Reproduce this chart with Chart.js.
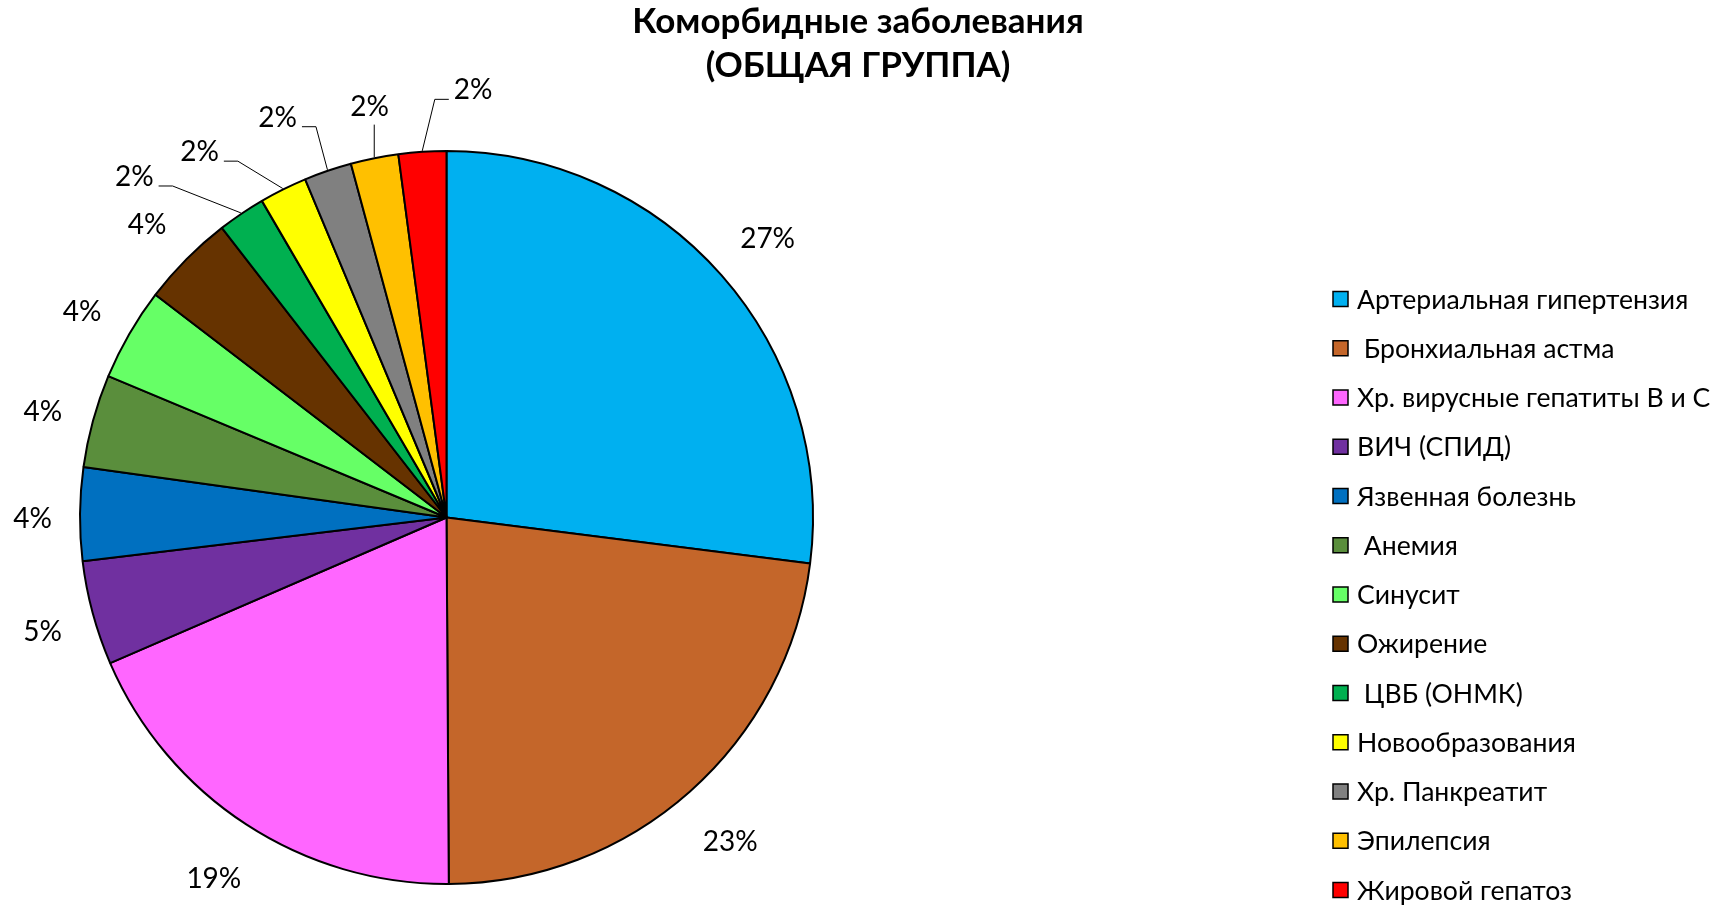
<!DOCTYPE html>
<html lang="ru">
<head>
<meta charset="utf-8">
<title>Коморбидные заболевания</title>
<script src="https://cdn.jsdelivr.net/npm/chart.js@4/dist/chart.umd.min.js"></script>
<style>
  html, body { margin: 0; padding: 0; background: #fff; overflow: hidden; }
  #wrap { width: 1716px; height: 906px; position: relative; }
</style>
</head>
<body>
<div id="wrap"><canvas id="pieChart"></canvas></div>
<script>
const titleLines = ["Коморбидные заболевания", "(ОБЩАЯ ГРУППА)"];

const diseases = [
    "Артериальная гипертензия",
    " Бронхиальная астма",
    "Хр. вирусные гепатиты В и С",
    "ВИЧ (СПИД)",
    "Язвенная болезнь",
    " Анемия",
    "Синусит",
    "Ожирение",
    " ЦВБ (ОНМК)",
    "Новообразования",
    "Хр. Панкреатит",
    "Эпилепсия",
    "Жировой гепатоз"
];

// доля в процентах
const shares = [27.0, 22.9, 18.6, 4.6, 4.1, 4.1, 4.1, 4.1, 2.1, 2.1, 2.1, 2.1, 2.1];

const sliceColors = [
    "#00B0F0", "#C4662A", "#FF66FF", "#7030A0", "#0070C0", "#5A8E3C", "#66FF66",
    "#663300", "#00B050", "#FFFF00", "#808080", "#FFC000", "#FF0000"
];

// подписи маленьких секторов вынесены с выносками: [сдвиг угла в градусах, радиус]
const leaderLabels = {
    8: [-8.5, 462],
    9: [-7.6, 441],
    10: [-4, 434],
    11: [0.75, 418],
    12: [7.35, 428]
};

const textFont = "Lato, 'Open Sans', sans-serif";

// подписи процентов у секторов
const percentLabels = {
    id: "percentLabels",
    afterDatasetsDraw(chart) {
        const ctx = chart.ctx;
        const meta = chart.getDatasetMeta(0);
        const total = shares.reduce((a, b) => a + b, 0);
        ctx.save();
        ctx.font = "28px " + textFont;
        ctx.fillStyle = "#000";
        ctx.strokeStyle = "#000";
        ctx.lineWidth = 1;
        ctx.textAlign = "center";
        ctx.textBaseline = "middle";
        meta.data.forEach((arc, i) => {
            const p = arc.getProps(["x", "y", "startAngle", "endAngle", "outerRadius"], true);
            const mid = (p.startAngle + p.endAngle) / 2;
            const text = Math.round(shares[i] / total * 100) + "%";
            const w = ctx.measureText(text).width;
            const r = p.outerRadius + 1;
            const lead = leaderLabels[i];
            if (lead) {
                const a = mid + lead[0] * Math.PI / 180;
                const lx = p.x + Math.cos(a) * lead[1];
                const ly = p.y + Math.sin(a) * lead[1];
                const ax = p.x + Math.cos(mid) * r;
                const ay = p.y + Math.sin(mid) * r;
                ctx.beginPath();
                ctx.moveTo(ax, ay);
                if (Math.abs(lx - ax) < w / 2) {
                    ctx.lineTo(ax, ly + 18);
                } else {
                    const side = lx < ax ? 1 : -1;
                    const cx = lx + side * (w / 2 + 5);
                    ctx.lineTo(cx + side * 14, ly + 9);
                    ctx.lineTo(cx, ly + 9);
                }
                ctx.stroke();
                ctx.fillText(text, lx, ly);
            } else {
                const d = r + 26 + Math.abs(Math.cos(mid)) * (w / 2 + 1) + Math.abs(Math.sin(mid)) * 20;
                ctx.fillText(text, p.x + Math.cos(mid) * d, p.y + Math.sin(mid) * d + 5);
            }
        });
        ctx.restore();
    }
};

// заголовок и легенда справа
const titleAndLegend = {
    id: "titleAndLegend",
    afterDraw(chart) {
        const ctx = chart.ctx;
        ctx.save();
        ctx.fillStyle = "#000";
        ctx.textAlign = "center";
        ctx.textBaseline = "middle";
        ctx.font = "bold 35px " + textFont;
        titleLines.forEach((line, i) => ctx.fillText(line, 858, 22 + i * 44));

        ctx.textAlign = "left";
        ctx.font = "26.6px " + textFont;
        ctx.lineWidth = 1.5;
        ctx.strokeStyle = "#000";
        diseases.forEach((name, i) => {
            const y = 299 + i * 49.25;
            ctx.fillStyle = sliceColors[i];
            ctx.fillRect(1333, y - 7.5, 15, 15);
            ctx.strokeRect(1333, y - 7.5, 15, 15);
            ctx.fillStyle = "#000";
            ctx.fillText(name, 1357, y + 1);
        });
        ctx.restore();
    }
};

const pieChart = new Chart(document.getElementById("pieChart"), {
    type: "pie",
    data: {
        labels: diseases,
        datasets: [{
            data: shares,
            backgroundColor: sliceColors,
            borderColor: "#000",
            borderWidth: 2
        }]
    },
    options: {
        responsive: true,
        maintainAspectRatio: false,
        animation: false,
        events: [],
        layout: { padding: { left: 79, right: 902, top: 150, bottom: 21 } },
        plugins: {
            legend: { display: false },
            title: { display: false },
            tooltip: { enabled: false }
        }
    },
    plugins: [percentLabels, titleAndLegend]
});
</script>
</body>
</html>
